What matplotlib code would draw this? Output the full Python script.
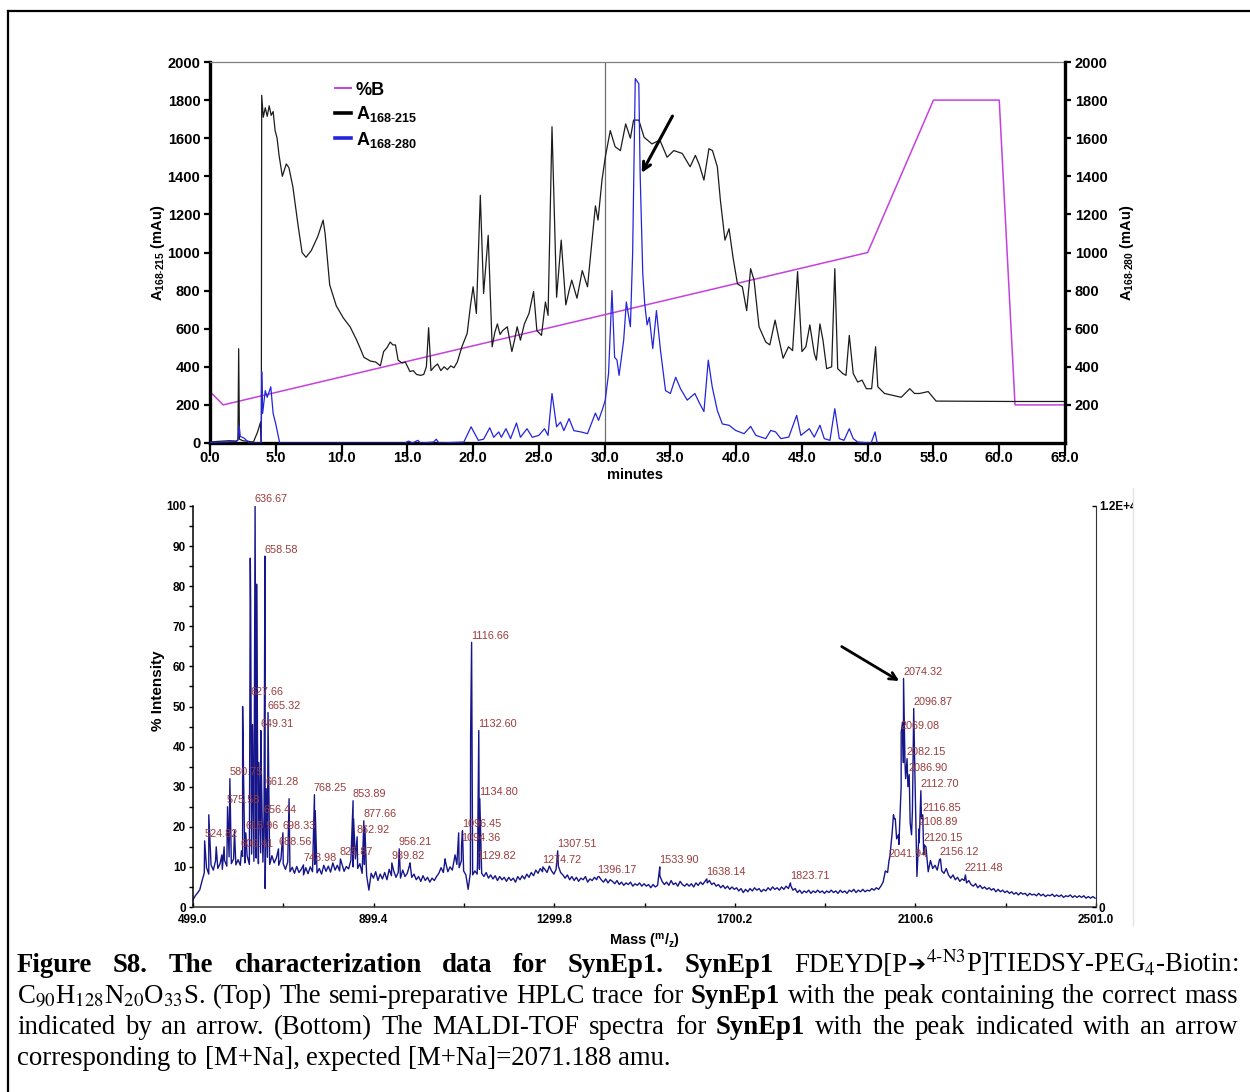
import matplotlib
matplotlib.use("Agg")
import matplotlib.pyplot as plt
import numpy as np
from matplotlib.lines import Line2D
from matplotlib.patches import Rectangle
from matplotlib.transforms import IdentityTransform

plt.rcParams['font.family'] = 'Liberation Sans'
plt.rcParams['mathtext.fontset'] = 'custom'
plt.rcParams['mathtext.rm'] = 'Liberation Sans'
plt.rcParams['mathtext.bf'] = 'Liberation Sans:bold'
plt.rcParams['mathtext.it'] = 'Liberation Sans:italic'

### HPLC trace, 215 nm channel (minutes, mAu) ###
t_215 = [0.0, 0.5, 1.0, 1.5, 2.0, 2.12, 2.18, 2.24, 2.5, 3.0, 3.3, 3.6, 3.85, 3.9, 3.93,
         4.05, 4.2, 4.35, 4.5, 4.65, 4.8, 4.95, 5.1, 5.25, 5.5, 5.8, 6.0, 6.3, 6.7, 7.0,
         7.3, 7.7, 8.2, 8.6, 8.75, 9.1, 9.6, 10.15, 10.65, 11.15, 11.4, 11.7, 12.2, 12.6,
         12.95, 13.2, 13.45, 13.7, 13.9, 14.1, 14.3, 14.6, 14.85, 15.2, 15.45, 15.7, 16.0,
         16.25, 16.45, 16.62, 16.8, 17.05, 17.3, 17.55, 17.8, 18.05, 18.3, 18.55, 18.8,
         19.15, 19.55, 19.8, 20.0, 20.25, 20.55, 20.8, 21.15, 21.45, 21.65, 21.85, 22.05,
         22.25, 22.6, 22.95, 23.15, 23.35, 23.6, 23.9, 24.25, 24.6, 24.85, 25.2, 25.5,
         25.7, 26.0, 26.35, 26.7, 27.05, 27.3, 27.5, 27.9, 28.3, 28.7, 29.05, 29.3, 29.5,
         29.8, 30.05, 30.43, 30.8, 31.2, 31.6, 31.96, 32.2, 32.6, 33.0, 33.6, 34.2, 34.75,
         35.26, 35.9, 36.5, 36.9, 37.2, 37.55, 37.93, 38.2, 38.57, 38.8, 39.15, 39.46,
         39.76, 40.1, 40.47, 40.8, 41.1, 41.36, 41.74, 42.25, 42.56, 42.96, 43.27, 43.57,
         43.98, 44.29, 44.67, 45.0, 45.3, 45.6, 45.94, 46.1, 46.37, 46.6, 46.88, 47.26,
         47.5, 47.72, 48.1, 48.35, 48.6, 48.9, 49.24, 49.57, 49.9, 50.3, 50.6, 50.77,
         51.28, 51.9, 52.55, 53.2, 53.56, 53.95, 54.6, 55.2, 61.0, 65.0]
a_215 = [5, 8, 10, 12, 10, 15, 495, 20, 12, 8, 5, 55, 110, 5, 1825,
         1710, 1760, 1715, 1770, 1720, 1740, 1640, 1600, 1510, 1400, 1465, 1445, 1345, 1140, 1000,
         975, 1010, 1085, 1170, 1100, 830, 720, 655, 610, 540, 500, 450, 430, 425,
         405, 480, 500, 530, 515, 515, 435, 420, 425, 375, 380, 360, 355,
         360, 400, 605, 380, 400, 415, 380, 400, 385, 405, 395, 425,
         505, 575, 720, 820, 680, 1300, 785, 1090, 505, 580, 625, 570,
         590, 610, 480, 540, 610, 540, 625, 680, 795, 590, 565, 740,
         670, 1660, 765, 1065, 725, 800, 855, 760, 905, 820, 1065, 1245, 1170,
         1380, 1500, 1640, 1555, 1535, 1675, 1600, 1695, 1695, 1605, 1570, 1590, 1500,
         1535, 1520, 1450, 1510, 1460, 1380, 1545, 1535, 1450, 1275, 1065, 1125,
         975, 835, 820, 695, 915, 855, 610, 530, 515, 645, 540, 445,
         505, 485, 900, 480, 505, 620, 470, 435, 625, 540, 390, 400,
         915, 390, 365, 355, 565, 365, 320, 330, 285, 285, 505, 295,
         260, 250, 240, 285, 260, 260, 270, 220, 218, 218]

### HPLC trace, 280 nm channel ###
t_280 = [0.0, 1.0, 2.0, 2.15, 2.22, 2.3, 2.6, 3.0, 3.9, 3.93, 4.0, 4.2, 4.35, 4.5, 4.62,
         4.8, 5.0, 5.3, 14.8, 15.1, 15.4, 15.8, 16.0, 17.0, 17.2, 17.4, 19.3, 19.85, 20.4,
         20.8, 21.27, 21.57, 21.95, 22.15, 22.5, 22.85, 23.3, 23.6, 24.1, 24.5, 25.0,
         25.43, 25.7, 26.0, 26.35, 26.65, 26.9, 27.3, 27.66, 28.2, 28.7, 29.3, 29.54,
         29.85, 30.05, 30.3, 30.56, 30.76, 30.94, 31.1, 31.45, 31.65, 31.96, 32.13, 32.33,
         32.6, 32.7, 32.9, 33.05, 33.23, 33.4, 33.66, 33.94, 34.25, 34.63, 35.0, 35.4,
         35.77, 36.28, 36.86, 37.17, 37.55, 37.88, 38.18, 38.57, 38.95, 39.46, 39.96,
         40.6, 41.1, 41.5, 42.25, 42.63, 43.0, 43.4, 44.0, 44.6, 44.92, 45.56, 45.94,
         46.37, 46.7, 47.13, 47.5, 47.84, 48.2, 48.6, 48.9, 49.24, 50.26, 50.56, 50.72]
a_280 = [3, 5, 8, 20, 90, 35, 25, 0, 0, 375, 155, 275, 240, 270, 295,
         155, 100, 0, 0, 10, 0, 14, 0, 5, 20, 0, 5, 85, 14,
         20, 80, 30, 58, 30, 75, 23, 105, 30, 75, 30, 40,
         75, 40, 260, 85, 110, 65, 128, 65, 58, 49, 157, 119,
         180, 225, 365, 800, 450, 435, 355, 540, 740, 610, 995, 1913,
         1886, 1415, 890, 730, 620, 660, 495, 695, 485, 275, 260, 345,
         285, 225, 260, 215, 165, 435, 295, 170, 100, 93, 66,
         49, 87, 40, 23, 66, 58, 23, 31, 145, 40, 75, 31,
         93, 23, 14, 180, 23, 14, 75, 23, 5, 0, 58, 0]

### solvent gradient (%B), drawn on the mAu scale ###
t_grad = [0.0, 1.0, 50.0, 55.0, 60.0, 61.2, 65.0]
b_grad = [270, 200, 1000, 1800, 1800, 200, 200]

### MALDI-TOF spectrum: baseline sampled every 5 m/z from 499 ###
ms_start = 499.0
ms_step = 5.0
ms_base = [
    1.8, 2.8, 3.5, 4.3, 6.5, 8.5, 9.8, 8.2, 10.5, 9.2, 11.5, 9.6, 10.8, 9.4, 11.6, 10.2, 12.5, 10.8, 12.0, 10.5,
    11.8, 10.4, 12.6, 11.0, 12.8, 10.6, 13.2, 11.4, 12.2, 10.8, 13.5, 11.2, 4.6, 12.4, 10.6, 12.8, 11.0, 12.3, 10.4, 12.0,
    10.8, 9.4, 11.2, 8.8, 9.9, 8.4, 10.1, 8.6, 9.4, 8.0, 9.8, 8.3, 10.0, 8.8, 10.6, 8.5, 9.6, 8.2, 10.4, 8.9,
    10.2, 8.7, 11.0, 9.2, 10.4, 9.0, 10.8, 8.9, 10.1, 9.5, 11.6, 10.0, 12.0, 9.6, 10.8, 8.4, 10.6, 7.8, 4.2, 8.4,
    7.2, 8.8, 6.6, 8.2, 7.0, 8.6, 6.8, 9.4, 7.8, 9.0, 7.4, 8.6, 7.2, 9.2, 7.6, 8.4, 10.4, 7.4, 8.2, 6.8,
    7.6, 6.4, 7.8, 6.6, 7.4, 6.2, 7.2, 6.6, 7.6, 8.4, 9.8, 8.6, 11.2, 8.8, 10.0, 9.2, 12.4, 10.6, 9.8, 11.5,
    9.0, 8.0, 4.4, 8.6, 8.0, 9.0, 8.2, 9.4, 8.4, 7.6, 8.6, 7.2, 8.0, 7.0, 7.8, 6.6, 7.6, 6.8, 7.4, 6.4,
    7.4, 6.6, 7.2, 6.2, 7.6, 6.8, 7.8, 7.0, 8.2, 7.4, 8.6, 7.8, 9.2, 8.4, 9.6, 8.8, 9.4, 8.6, 10.2, 9.0,
    8.2, 9.4, 10.2, 8.6, 8.0, 7.2, 8.0, 6.8, 7.6, 6.6, 7.4, 6.4, 7.2, 6.8, 7.6, 6.2, 7.0, 6.6, 7.4, 6.8,
    7.6, 6.8, 6.2, 7.0, 6.0, 6.8, 6.4, 5.8, 6.6, 5.6, 6.2, 5.4, 6.0, 5.6, 6.2, 5.2, 5.8, 5.4, 6.0, 5.2,
    5.8, 5.2, 5.6, 4.8, 5.6, 5.0, 5.4, 7.8, 6.4, 5.6, 6.2, 5.4, 6.6, 5.6, 6.0, 5.2, 6.4, 5.6, 5.2, 5.8,
    5.2, 5.8, 5.0, 6.0, 5.4, 6.2, 5.6, 6.4, 6.0, 6.6, 5.6, 6.0, 5.2, 5.6, 4.8, 5.4, 4.6, 5.2, 4.4, 5.0,
    4.4, 4.8, 4.0, 4.6, 3.6, 4.4, 3.8, 4.6, 4.0, 4.8, 4.2, 4.6, 3.8, 4.4, 4.0, 4.8, 4.2, 5.0, 4.4, 4.8,
    4.2, 5.0, 4.4, 5.2, 4.6, 5.4, 4.2, 4.6, 3.6, 4.2, 3.4, 4.0, 3.6, 4.2, 3.4, 4.0, 3.6, 4.2, 3.6, 4.0,
    3.4, 4.0, 3.6, 4.2, 3.6, 4.0, 3.4, 4.2, 3.6, 4.0, 3.4, 4.2, 3.8, 4.4, 3.6, 4.2, 3.8, 4.4, 3.8, 4.2,
    4.0, 4.6, 4.2, 4.8, 4.4, 5.2, 6.2, 9.0, 8.6, 12.6, 18.4, 22.0, 17.0, 15.6, 30.0, 36.0, 32.0, 30.0, 21.0, 24.0,
    36.0, 7.6, 16.0, 22.0, 13.0, 15.0, 8.8, 11.6, 9.6, 10.4, 9.2, 11.8, 9.0, 8.4, 9.6, 8.0, 7.2, 8.0, 6.8, 7.4,
    6.4, 7.0, 6.6, 6.0, 6.6, 5.6, 5.2, 5.8, 4.8, 5.4, 4.6, 5.0, 4.4, 4.8, 4.2, 4.6, 3.8, 4.4, 3.8, 4.2,
    3.6, 4.0, 3.4, 3.8, 3.2, 3.6, 3.0, 3.6, 3.2, 3.4, 2.8, 3.4, 3.0, 3.2, 2.8, 3.4, 2.8, 3.2, 2.6, 3.0,
    2.8, 3.2, 2.6, 3.0, 2.6, 3.0, 2.4, 2.8, 2.6, 3.0, 2.4, 2.8, 2.4, 2.8, 2.4, 2.8, 2.2, 2.6, 2.2, 2.6,
    2.2]

### labelled peaks (m/z, % intensity) ###
label_mz = [524.82, 575.58, 580.75, 606.41, 615.96, 627.66, 636.67, 649.31, 656.44, 658.58,
            661.28, 665.32, 688.56, 698.33, 743.98, 768.25, 825.87, 853.89, 862.92, 877.66,
            939.82, 956.21, 1094.36, 1096.45, 1116.66, 1129.82, 1132.60, 1134.80, 1274.72, 1307.51,
            1396.17, 1533.90, 1638.14, 1823.71, 2041.94, 2069.08, 2074.32, 2082.15, 2086.90, 2096.87,
            2108.89, 2112.70, 2116.85, 2120.15, 2156.12, 2211.48]
label_int = [16.5, 25.0, 32.0, 14.0, 18.5, 52.0, 100.0, 44.0, 22.5, 87.5,
             29.5, 48.5, 14.5, 18.5, 10.5, 28.0, 12.0, 26.5, 17.5, 21.5,
             11.0, 14.5, 15.5, 19.0, 66.0, 11.0, 44.0, 27.0, 10.0, 14.0,
             7.5, 10.0, 7.0, 6.0, 11.5, 43.5, 57.0, 37.0, 33.0, 49.5,
             19.5, 29.0, 23.0, 15.5, 12.0, 8.0]

### other resolved peaks without a label ###
extra_mz = [534.0, 550.5, 563.0, 568.0, 591.0, 609.0, 610.5, 626.0, 626.8, 631.0,
            640.0, 642.0, 645.0, 651.0, 657.5, 712.0, 770.0, 855.0, 880.0, 980.0,
            1058.0, 1080.0, 1088.0, 1114.5, 2052.0, 2056.0, 2063.0, 2072.0, 2077.5, 2092.0]
extra_int = [23.0, 15.0, 13.0, 15.0, 19.0, 50.0, 37.5, 87.0, 76.0, 45.5,
             80.5, 41.5, 36.0, 31.0, 58.0, 27.0, 24.0, 22.0, 20.0, 11.0,
             12.0, 13.0, 18.5, 43.0, 23.0, 22.0, 18.0, 46.0, 36.0, 18.0]

### caption: each word is a list of (text, style) pieces set without gaps ###
B, N, ARR = 'bold', 'normal', 'arrow'
caption_lines = [
    [[("Figure", B)], [("S8.", B)], [("The", B)], [("characterization", B)], [("data", B)],
     [("for", B)], [("SynEp1.", B)], [("SynEp1", B)],
     [("FDEYD[P", N), ("➔", ARR),
      (r"$^{\mathrm{4}\text{-}\mathrm{N3}}$P]TIEDSY-PEG$_{\mathrm{4}}$-Biotin:", N)]],
    [[(r"C$_{\mathrm{90}}$H$_{\mathrm{128}}$N$_{\mathrm{20}}$O$_{\mathrm{33}}$S.", N)], [("(Top)", N)],
     [("The", N)], [("semi-preparative", N)], [("HPLC", N)], [("trace", N)], [("for", N)],
     [("SynEp1", B)], [("with", N)], [("the", N)], [("peak", N)], [("containing", N)],
     [("the", N)], [("correct", N)], [("mass", N)]],
    [[("indicated", N)], [("by", N)], [("an", N)], [("arrow.", N)], [("(Bottom)", N)],
     [("The", N)], [("MALDI-TOF", N)], [("spectra", N)], [("for", N)], [("SynEp1", B)],
     [("with", N)], [("the", N)], [("peak", N)], [("indicated", N)], [("with", N)],
     [("an", N)], [("arrow", N)]],
    [[("corresponding", N)], [("to", N)], [("[M+Na],", N)], [("expected", N)],
     [("[M+Na]=2071.188", N)], [("amu.", N)]],
]

W, H = 1250, 1092
fig = plt.figure(figsize=(W / 100, H / 100), dpi=100)
fig.patch.set_facecolor('white')

purple = '#c640e0'
blue = '#2424dc'
navy = '#16168a'
peak_red = '#9c3a3a'
tick_font = dict(fontsize=10.5, fontweight='bold')

###### top panel: HPLC ######
ax = fig.add_axes([210 / W, 1 - 443 / H, 855 / W, 381 / H])
ax.plot(t_215, a_215, color='#1c1c1c', lw=0.9, zorder=3)
ax.plot(t_grad, b_grad, color=purple, lw=1.1, zorder=2)
ax.axvline(30.0, color='#707070', lw=0.9, zorder=1)
ax.set_xlim(0, 65)
ax.set_ylim(0, 2000)
xt = np.arange(0, 66, 5)
ax.set_xticks(xt)
ax.set_xticklabels([f"{v:.1f}" for v in xt], **tick_font)
ax.set_yticks(np.arange(0, 2001, 200))
ax.set_yticklabels([str(v) for v in range(0, 2001, 200)], **tick_font)
ax.tick_params(axis='x', direction='out', length=9, width=1.6, pad=-3)
ax.tick_params(axis='y', direction='out', length=4, width=1.6, pad=3)
for s in ('left', 'bottom'):
    ax.spines[s].set_linewidth(2.4)
ax.spines['right'].set_visible(False)
ax.spines['top'].set_color('#808080')
ax.spines['top'].set_linewidth(0.9)
ax.set_xlabel('minutes', fontsize=10.5, fontweight='bold')
ax.xaxis.set_label_coords(0.497, -0.066)
ax.set_ylabel(r'A$_{\mathbf{168}\text{-}\mathbf{215}}$ (mAu)', fontsize=10.5, fontweight='bold')
ax.yaxis.set_label_coords(-0.050, 0.5)

ax_r = ax.twinx()
ax_r.plot(t_280, a_280, color=blue, lw=0.9)
ax_r.set_ylim(0, 2000)
ax_r.set_yticks(np.arange(200, 2001, 200))
ax_r.set_yticklabels([str(v) for v in range(200, 2001, 200)], **tick_font)
ax_r.tick_params(axis='y', direction='out', length=4, width=1.6, pad=3)
ax_r.spines['right'].set_linewidth(2.4)
for s in ('left', 'bottom', 'top'):
    ax_r.spines[s].set_visible(False)
ax_r.set_ylabel(r'A$_{\mathbf{168}\text{-}\mathbf{280}}$ (mAu)', fontsize=10.5, fontweight='bold')
ax_r.yaxis.set_label_coords(1.062, 0.5)
ax_r.annotate('', xy=(32.72, 1405), xytext=(35.26, 1729),
              arrowprops=dict(arrowstyle='->', lw=2.2, color='black', mutation_scale=14))

handles = [Line2D([], [], color=purple, lw=1.4),
           Line2D([], [], color='black', lw=2.6),
           Line2D([], [], color=blue, lw=2.6)]
labels = ['%B', r'A$_{\mathbf{168}\text{-}\mathbf{215}}$', r'A$_{\mathbf{168}\text{-}\mathbf{280}}$']
ax_r.legend(handles, labels, loc='upper left', bbox_to_anchor=(0.146, 0.948), frameon=False,
            handlelength=0.9, handletextpad=0.25, labelspacing=0.3, borderpad=0, borderaxespad=0,
            prop=dict(size=13, weight='bold'))

###### bottom panel: MALDI-TOF ######
ms_mass = ms_start + ms_step * np.arange(len(ms_base))
all_mz = np.concatenate([ms_mass, label_mz, extra_mz])
all_int = np.concatenate([ms_base, label_int, extra_int])
order = np.argsort(all_mz, kind='stable')

bx = fig.add_axes([193 / W, 1 - 907 / H, 903 / W, 401 / H])
bx.plot(all_mz[order], all_int[order], color=navy, lw=1.0)
bx.set_xlim(499.0, 2501.0)
bx.set_ylim(0, 100)
major = np.linspace(499.0, 2501.0, 6)
bx.set_xticks(major)
bx.set_xticklabels([f"{v:.1f}" for v in major], fontsize=8.5, fontweight='bold')
bx.set_xticks((major[:-1] + major[1:]) / 2, minor=True)
bx.set_yticks(np.arange(0, 101, 10))
bx.set_yticklabels([str(v) for v in range(0, 101, 10)], fontsize=8.5, fontweight='bold')
bx.set_yticks(np.arange(5, 100, 10), minor=True)
bx.tick_params(axis='x', which='both', direction='in', length=3, width=1, pad=5)
bx.tick_params(axis='y', which='both', direction='out', length=3, width=1, pad=2)
bx.spines['top'].set_visible(False)
bx.spines['right'].set_visible(False)
bx.spines['left'].set_linewidth(1.1)
bx.spines['bottom'].set_linewidth(1.1)
bx.spines['bottom'].set_color('#333333')
bx.set_ylabel('% Intensity', fontsize=11, fontweight='bold')
bx.yaxis.set_label_coords(-0.031, 0.54)
bx.set_xlabel(r'Mass ($^{\mathbf{m}}$/$_{\mathbf{z}}$)', fontsize=10.5, fontweight='bold')
bx.xaxis.set_label_coords(0.5, -0.062)

for m, v in zip(label_mz, label_int):
    bx.text(m - 1.0, v + 0.4, f"{m:.2f}", fontsize=7.8, color=peak_red, ha='left', va='bottom')

bx.annotate('', xy=(2070, 56), xytext=(1932, 65.3),
            arrowprops=dict(arrowstyle='->', lw=2.0, color='black', mutation_scale=13))

bx_r = bx.twinx()
bx_r.set_ylim(0, 100)
bx_r.set_yticks([0, 100])
bx_r.set_yticklabels(['0', '1.2E+4'], fontsize=8.5, fontweight='bold')
bx_r.tick_params(axis='y', direction='in', length=3, width=1, pad=2)
bx_r.spines['right'].set_color('#333333')
for s in ('left', 'bottom', 'top'):
    bx_r.spines[s].set_visible(False)

# the spectrum export ends just right of the intensity scale
fig.add_artist(Rectangle((1133 / W, 1 - 925 / H), 117 / W, 440 / H, transform=fig.transFigure,
                         facecolor='white', edgecolor='none', zorder=20))
fig.add_artist(Line2D([1133 / W, 1133 / W], [1 - 925 / H, 1 - 488 / H], color='#e4e4e4',
                      lw=1, transform=fig.transFigure, zorder=21))

###### frame ######
fig.add_artist(Line2D([8 / W, 8 / W], [0, 1 - 11 / H], color='black', lw=1.6, transform=fig.transFigure))
fig.add_artist(Line2D([8 / W, 1], [1 - 11 / H, 1 - 11 / H], color='black', lw=1.6, transform=fig.transFigure))

###### caption, justified ######
cap_size = 19.3
cap_left, cap_right = 17, 1238
cap_baselines = [972, 1003, 1034, 1065]
serif = ['Liberation Serif', 'DejaVu Serif']
renderer = fig.canvas.get_renderer()


def piece(txt, style):
    if style == ARR:
        return fig.text(0, 0, txt, fontsize=cap_size * 0.8, family='DejaVu Sans', fontweight='bold',
                        ha='left', va='baseline', transform=IdentityTransform())
    return fig.text(0, 0, txt, fontsize=cap_size, family=serif, fontweight=style,
                    math_fontfamily='stix', ha='left', va='baseline', transform=IdentityTransform())


for i, words in enumerate(caption_lines):
    built = []
    for w in words:
        parts = [piece(txt, st) for txt, st in w]
        widths = [p.get_window_extent(renderer=renderer).width for p in parts]
        built.append((parts, widths))
    total = sum(sum(ws) for _, ws in built)
    last = i == len(caption_lines) - 1
    gap = cap_size * 100 / 72 * 0.25 if last else (cap_right - cap_left - total) / (len(built) - 1)
    x = cap_left
    for parts, widths in built:
        for p, w in zip(parts, widths):
            p.set_position((x, H - cap_baselines[i]))
            x += w
        x += gap

fig.savefig('out.png', dpi=100, facecolor='white')
